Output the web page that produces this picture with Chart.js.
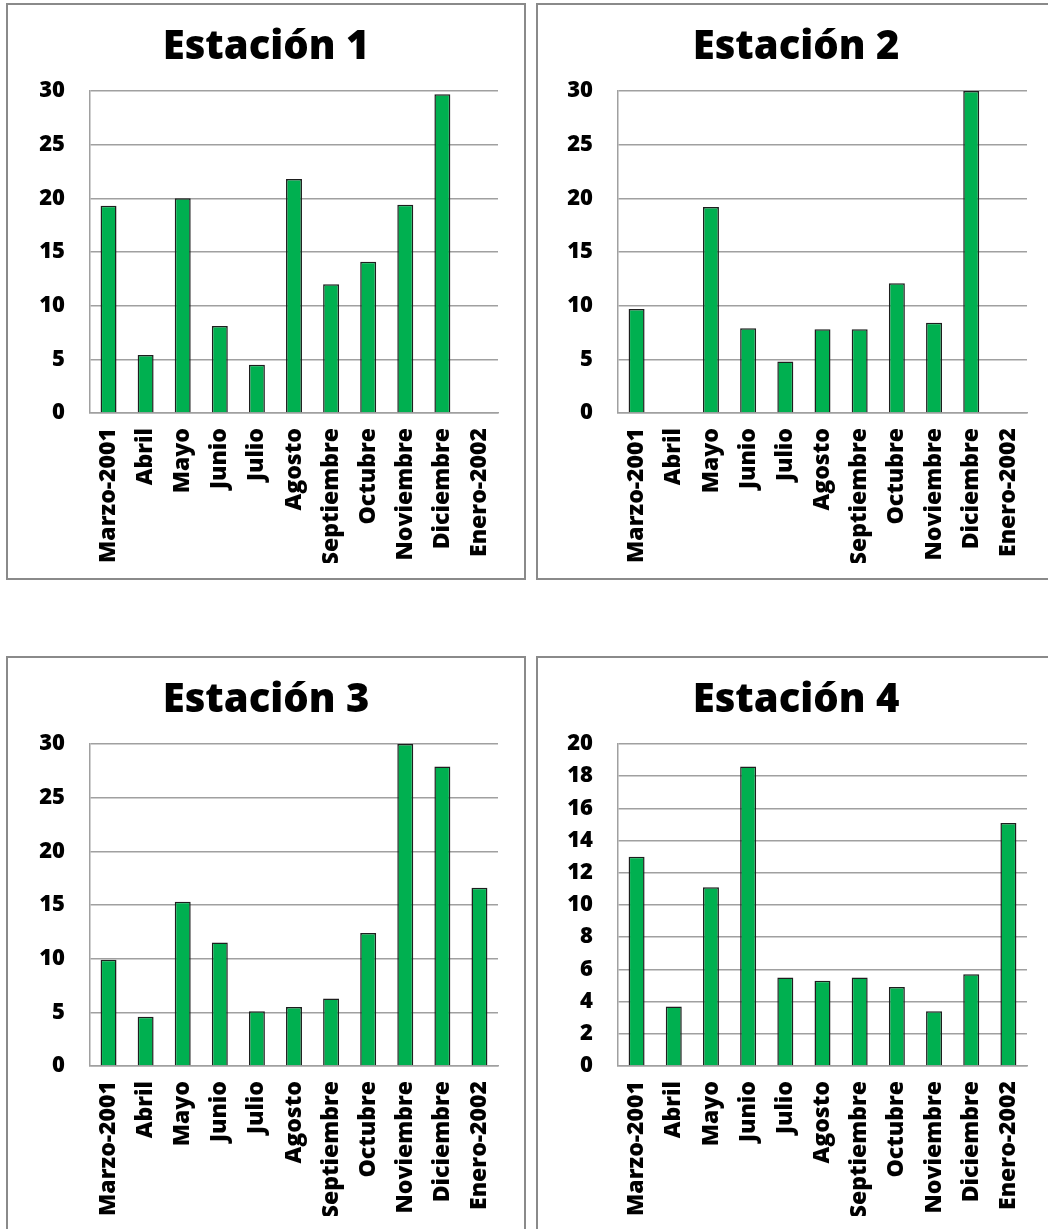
<!DOCTYPE html>
<html lang="es">
<head>
<meta charset="utf-8">
<title>Estaciones 2001-2002</title>
<script src="https://cdn.jsdelivr.net/npm/chart.js@4.4.1/dist/chart.umd.min.js"></script>
<style>
  html, body { margin: 0; padding: 0; background: #fff; overflow: hidden; }
  body { width: 1048px; height: 1229px; position: relative; }
  .panel {
    position: absolute;
    width: 520px;
    height: 577px;
    box-sizing: border-box;
    border: 2px solid #8a8a8a;
    background: #fff;
  }
  .panel canvas { display: block; }
  #p1 { left: 6px; top: 3px; }
  #p2 { left: 536px; top: 3px; }
  #p3 { left: 6px; top: 656px; }
  #p4 { left: 536px; top: 656px; }
</style>
</head>
<body>
<div class="panel" id="p1"><canvas id="chartE1" width="516" height="573"></canvas></div>
<div class="panel" id="p2"><canvas id="chartE2" width="516" height="573"></canvas></div>
<div class="panel" id="p3"><canvas id="chartE3" width="516" height="573"></canvas></div>
<div class="panel" id="p4"><canvas id="chartE4" width="516" height="573"></canvas></div>

<script>
// Meses de muestreo (marzo 2001 - enero 2002)
const meses = ['Marzo-2001', 'Abril', 'Mayo', 'Junio', 'Julio', 'Agosto',
    'Septiembre', 'Octubre', 'Noviembre', 'Diciembre', 'Enero-2002'];

// Valores por estación (null = sin dato)
const estacion1 = [19.3, 5.4, 20.0, 8.1, 4.5, 21.8, 12.0, 14.1, 19.4, 29.7, null];
const estacion2 = [9.7, null, 19.2, 7.9, 4.8, 7.8, 7.8, 12.1, 8.4, 30.0, null];
const estacion3 = [9.9, 4.6, 15.3, 11.5, 5.1, 5.5, 6.3, 12.4, 30.0, 27.9, 16.6];
const estacion4 = [13.0, 3.7, 11.1, 18.6, 5.5, 5.3, 5.5, 4.9, 3.4, 5.7, 15.1];

// Escala del eje Y de cada gráfico
const ejeMax = [30, 30, 30, 20];
const ejePaso = [5, 5, 5, 2];

const FONT = '"Open Sans", "Liberation Sans", sans-serif';
const VERDE = '#00b050';
const GRIS = '#a0a0a0';

// leftWidth = distancia del borde del canvas al eje Y; sidePad = margen a la derecha del área
function renderStation(canvasId, titulo, valores, yMax, yStep, leftWidth, sidePad) {
    const ctx = document.getElementById(canvasId);
    return new Chart(ctx, {
        type: 'bar',
        data: {
            labels: meses,
            datasets: [{
                data: valores,
                backgroundColor: VERDE,
                borderColor: '#1e1e1e',
                borderWidth: 1.5,
                borderSkipped: 'bottom',
                categoryPercentage: 1,
                barPercentage: 0.43
            }]
        },
        options: {
            responsive: false,
            animation: false,
            // mismo margen a ambos lados para que el título quede centrado en el recuadro
            layout: { padding: { left: sidePad, right: sidePad, top: 0, bottom: 15 } },
            plugins: {
                legend: { display: false },
                tooltip: { enabled: false },
                title: {
                    display: true,
                    text: titulo,
                    color: '#000',
                    font: { family: FONT, size: 40, weight: '800' },
                    padding: { top: 19, bottom: 19 }
                }
            },
            scales: {
                x: {
                    grid: { display: false, drawTicks: false },
                    border: { display: true, color: GRIS, width: 1.5 },
                    ticks: {
                        color: '#000',
                        font: { family: FONT, size: 23, weight: '800' },
                        minRotation: 90,
                        maxRotation: 90,
                        autoSkip: false,
                        padding: 15
                    },
                    afterFit: (scale) => { scale.height = 150; }
                },
                y: {
                    min: 0,
                    max: yMax,
                    grid: { color: GRIS, lineWidth: 1.5, drawTicks: false },
                    border: { display: true, color: GRIS, width: 1.5 },
                    ticks: {
                        stepSize: yStep,
                        color: '#000',
                        font: { family: FONT, size: 22, weight: '800' },
                        padding: 25
                    },
                    afterFit: (scale) => { scale.width = leftWidth - sidePad; }
                }
            }
        }
    });
}

renderStation('chartE1', 'Estación 1', estacion1, ejeMax[0], ejePaso[0], 82, 26);
renderStation('chartE2', 'Estación 2', estacion2, ejeMax[1], ejePaso[1], 80, 27);
renderStation('chartE3', 'Estación 3', estacion3, ejeMax[2], ejePaso[2], 82, 26);
renderStation('chartE4', 'Estación 4', estacion4, ejeMax[3], ejePaso[3], 80, 27);
</script>
</body>
</html>
